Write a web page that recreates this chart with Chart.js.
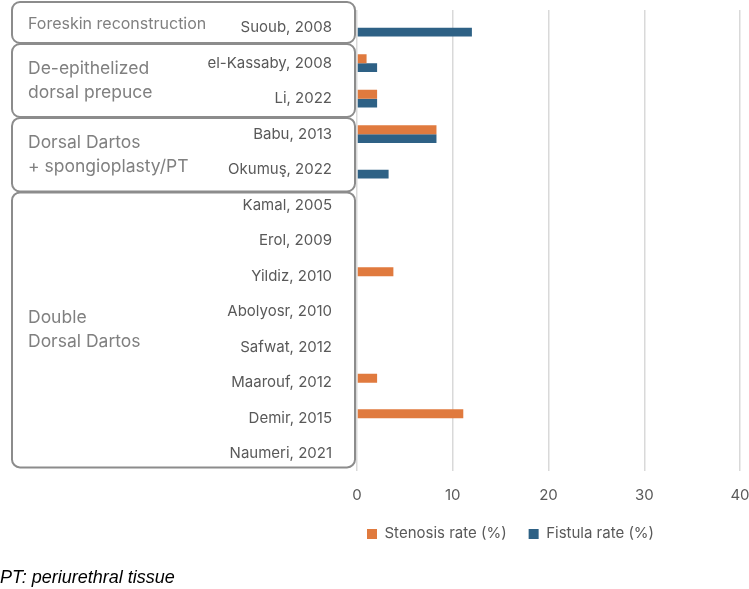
<!DOCTYPE html>
<html>
<head>
<meta charset="utf-8">
<script src="https://cdn.jsdelivr.net/npm/chart.js@4"></script>
<style>
  html, body { margin: 0; padding: 0; background: #fff; }
  #wrap { width: 749px; height: 589px; }
</style>
</head>
<body>
<div id="wrap"><canvas id="c" width="749" height="589"></canvas></div>
<script>
const categories = ["Suoub, 2008", "el-Kassaby, 2008", "Li, 2022", "Babu, 2013", "Okumuş, 2022",
  "Kamal, 2005", "Erol, 2009", "Yildiz, 2010", "Abolyosr, 2010", "Safwat, 2012",
  "Maarouf, 2012", "Demir, 2015", "Naumeri, 2021"];
const stenosisRate = [0, 1.0, 2.1, 8.3, 0, 0, 0, 3.8, 0, 0, 2.1, 11.1, 0];
const fistulaRate  = [12.0, 2.1, 2.1, 8.3, 3.3, 0, 0, 0, 0, 0, 0, 0, 0];
const xTicks = [0, 10, 20, 30, 40];
const groupNames = [["Foreskin reconstruction"], ["De-epithelized", "dorsal prepuce"],
  ["Dorsal Dartos", "+ spongioplasty/PT"], ["Double", "Dorsal Dartos"]];
const groupFirst = [0, 1, 3, 5];
const groupLast  = [0, 2, 4, 12];
const footnote = "PT: periurethral tissue";

const FONT = "Inter, 'Open Sans', sans-serif";

// pixel tweaks for the group boxes (top, bottom)
const boxAdjust = [[-8, -2.5], [-1.5, 0.5], [1.5, 4], [5, -4]];

const groupPlugin = {
  id: 'groupBoxes',
  beforeDraw(chart) {
    const lg = chart.legend;
    if (lg) {
      const w = lg.right - lg.left;
      lg.left = chart.chartArea.left + 10 - lg.options.labels.padding;
      lg.right = lg.left + w;
      lg.adjustHitBoxes();
    }
  },
  afterDraw(chart) {
    const ctx = chart.ctx;
    const y = chart.scales.y;
    const step = y.getPixelForValue(1) - y.getPixelForValue(0);
    ctx.save();
    for (let g = 0; g < groupNames.length; g++) {
      const top = y.getPixelForValue(groupFirst[g]) - step / 2 + boxAdjust[g][0];
      const bot = y.getPixelForValue(groupLast[g]) + step / 2 + boxAdjust[g][1];
      const left = 12, right = 355;
      ctx.beginPath();
      ctx.roundRect(left, top, right - left, bot - top, 8);
      ctx.lineWidth = 2;
      ctx.strokeStyle = '#8c8c8c';
      ctx.stroke();
      const lines = groupNames[g];
      const size = lines.length === 1 ? 16 : 17.5;
      const lh = 24;
      ctx.font = size + 'px ' + FONT;
      ctx.fillStyle = '#808080';
      ctx.textAlign = 'left';
      ctx.textBaseline = 'middle';
      const cy = (top + bot) / 2 + (lines.length === 1 ? 1.5 : 0);
      lines.forEach((t, i) => {
        ctx.fillText(t, 28, cy + (i - (lines.length - 1) / 2) * lh);
      });
    }
    ctx.restore();
  }
};

new Chart(document.getElementById('c'), {
  type: 'bar',
  data: {
    labels: categories,
    datasets: [
      { label: 'Stenosis rate (%)', data: stenosisRate, backgroundColor: '#E07A3E',
        borderWidth: 0 },
      { label: 'Fistula rate (%)', data: fistulaRate, backgroundColor: '#2E6185',
        borderWidth: 0 }
    ]
  },
  options: {
    indexAxis: 'y',
    responsive: false,
    animation: false,
    devicePixelRatio: 1,
    categoryPercentage: 0.5,
    barPercentage: 1.0,
    layout: { padding: { top: 10, right: 9, left: 0, bottom: 0 } },
    scales: {
      x: {
        min: 0, max: 40,
        afterBuildTicks(s) { s.ticks = xTicks.map(v => ({ value: v })); },
        afterFit(s) { s.paddingLeft = 0; s.paddingRight = 0; s.height = 33; },
        grid: { color: '#d9d9d9', lineWidth: 1.5, drawTicks: false },
        border: { display: false },
        ticks: { color: '#595959', font: { family: FONT, size: 15 }, padding: 15 }
      },
      y: {
        afterFit(s) { s.width = 357; s.paddingTop = 0; s.paddingBottom = 0; },
        grid: { display: false },
        border: { display: false },
        ticks: { color: '#595959', font: { family: FONT, size: 15 }, padding: 17, autoSkip: false }
      }
    },
    plugins: {
      legend: {
        position: 'bottom',
        align: 'start',
        labels: { boxWidth: 10, boxHeight: 10, color: '#595959', padding: 22,
          font: { family: FONT, size: 15 } }
      },
      title: {
        display: true,
        text: footnote,
        position: 'bottom',
        align: 'start',
        color: '#000',
        font: { family: "'Liberation Sans', Arial, sans-serif", size: 18, style: 'italic', weight: 'normal' },
        padding: { top: 16, bottom: 0 }
      },
      tooltip: { enabled: false }
    }
  },
  plugins: [groupPlugin]
});
</script>
</body>
</html>
